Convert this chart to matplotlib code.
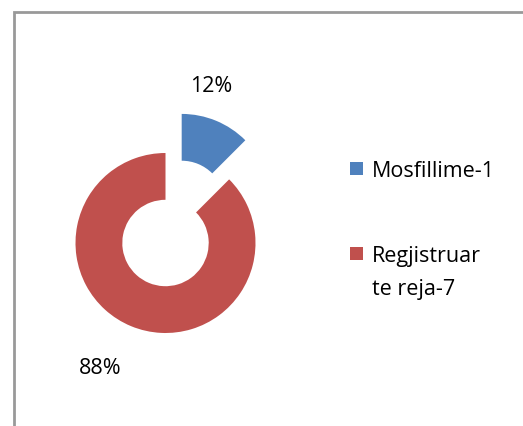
import numpy as np
import matplotlib.pyplot as plt
from matplotlib.patches import Rectangle

plt.rcParams['font.family'] = ['Open Sans', 'DejaVu Sans']

# data
names = ['Mosfillime-1', 'Regjistruar\nte reja-7']
values = [1, 7]
colors = ['#4F81BD', '#C0504D']

W, H = 523, 427
fig = plt.figure(figsize=(W / 100, H / 100), dpi=100)
ax = fig.add_axes([0, 0, 1, 1])

# donut, pixel units (explode is not scaled by radius in mpl)
cx, cy, r = 165.5, 183, 90
wedges, _ = ax.pie(values, colors=colors, startangle=90, counterclock=False,
                   explode=[0.47 * r, 0], center=(cx, cy), radius=r,
                   wedgeprops=dict(width=r * 0.52, linewidth=0))

ax.set_xlim(0, W)
ax.set_ylim(0, H)
ax.set_aspect('equal')
ax.axis('off')

# percent labels
pct = [v / sum(values) * 100 for v in values]
label_pos = [(211.5, 340.5), (100, 58)]
for p, (x, y) in zip(pct, label_pos):
    ax.text(x, y, '%d%%' % round(p), fontsize=15.5, ha='center', va='center')

# legend drawn by hand, one baseline per line
leg_y = [250.3, 165.3]
line_gap = 33
for name, c, y in zip(names, colors, leg_y):
    ax.add_patch(Rectangle((350, y + 1), 13, 13, facecolor=c, edgecolor='none'))
    for i, line in enumerate(name.split('\n')):
        ax.text(372, y - i * line_gap, line, fontsize=15.5, ha='left',
                va='baseline')

# outer frame (only top and left visible)
ax.plot([13.5, 13.5, W], [0, H - 12.5, H - 12.5], color='#999999', lw=2,
        solid_joinstyle='miter')

fig.savefig('out.png', dpi=100)
